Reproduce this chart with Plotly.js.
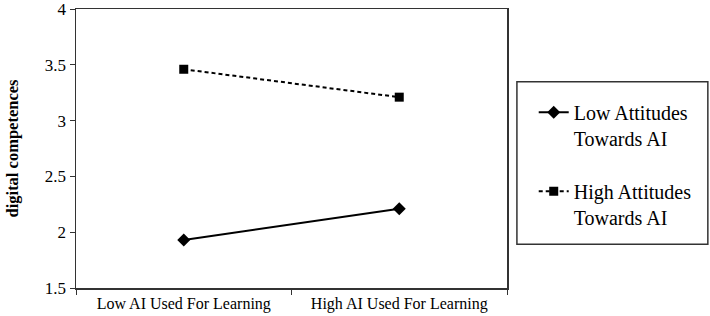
<!DOCTYPE html>
<html><head><meta charset="utf-8">
<script src="https://cdn.plot.ly/plotly-3.0.1.min.js"></script>
<style>html,body{margin:0;padding:0;background:#fff}#chart{width:710px;height:316px}</style>
</head><body><div id="chart"></div>
<script>
const categories = ["Low AI Used For Learning", "High AI Used For Learning"];
const lowAttitudes = [1.93, 2.21];
const highAttitudes = [3.46, 3.21];
const seriesNames = ["Low Attitudes<br>Towards AI", "High Attitudes<br>Towards AI"];
const yTicks = [1.5, 2, 2.5, 3, 3.5, 4];
const yTickText = ["1.5", "2", "2.5", "3", "3.5", "4"];

const font = "Liberation Serif";
const traces = [
  {x: categories, y: lowAttitudes, name: seriesNames[0], type: "scatter", mode: "lines+markers",
   legendgroup: "a",
   line: {color: "#000", width: 2}, marker: {symbol: "diamond", size: 10, color: "#000"}},
  {x: categories, y: highAttitudes, name: seriesNames[1], type: "scatter", mode: "lines+markers",
   legendgroup: "b",
   line: {color: "#000", width: 2, dash: "4px,3px"}, marker: {symbol: "square", size: 9, color: "#000"}}
];
const layout = {
  width: 710, height: 316,
  margin: {l: 76, r: 203, t: 9, b: 28},
  paper_bgcolor: "#fff", plot_bgcolor: "#fff",
  font: {family: font, color: "#000", size: 16},
  showlegend: true,
  legend: {x: 1.062, y: 0.70, xanchor: "left", yanchor: "top", bgcolor: "rgba(0,0,0,0)",
           font: {family: font, size: 20, color: "#000"}, valign: "top",
           tracegroupgap: 24, traceorder: "grouped"},
  xaxis: {type: "category", range: [-0.5, 1.5], tickson: "boundaries", ticks: "outside", ticklen: 5,
          tickcolor: "#333", showline: true, linecolor: "#333", linewidth: 1.5, mirror: true,
          showgrid: false, zeroline: false, tickfont: {family: font, size: 16, color: "#000"}},
  yaxis: {range: [1.5, 4], tickvals: yTicks, ticktext: yTickText, ticks: "outside", ticklen: 5,
          ticklabeloverflow: "allow",
          tickcolor: "#333", showline: true, linecolor: "#333", linewidth: 1.5, mirror: true,
          showgrid: false, zeroline: false, tickfont: {family: font, size: 17, color: "#000"},
          title: {text: "<b>digital competences</b>", font: {family: font, size: 16.5, color: "#000"}, standoff: 22}},
  shapes: [{type: "rect", xref: "paper", yref: "paper", x0: 1.023, x1: 1.466, y0: 0.157, y1: 0.739,
            line: {color: "#333", width: 1.5}, fillcolor: "rgba(0,0,0,0)"}]
};
Plotly.newPlot("chart", traces, layout, {displayModeBar: false, staticPlot: true});
</script></body></html>
